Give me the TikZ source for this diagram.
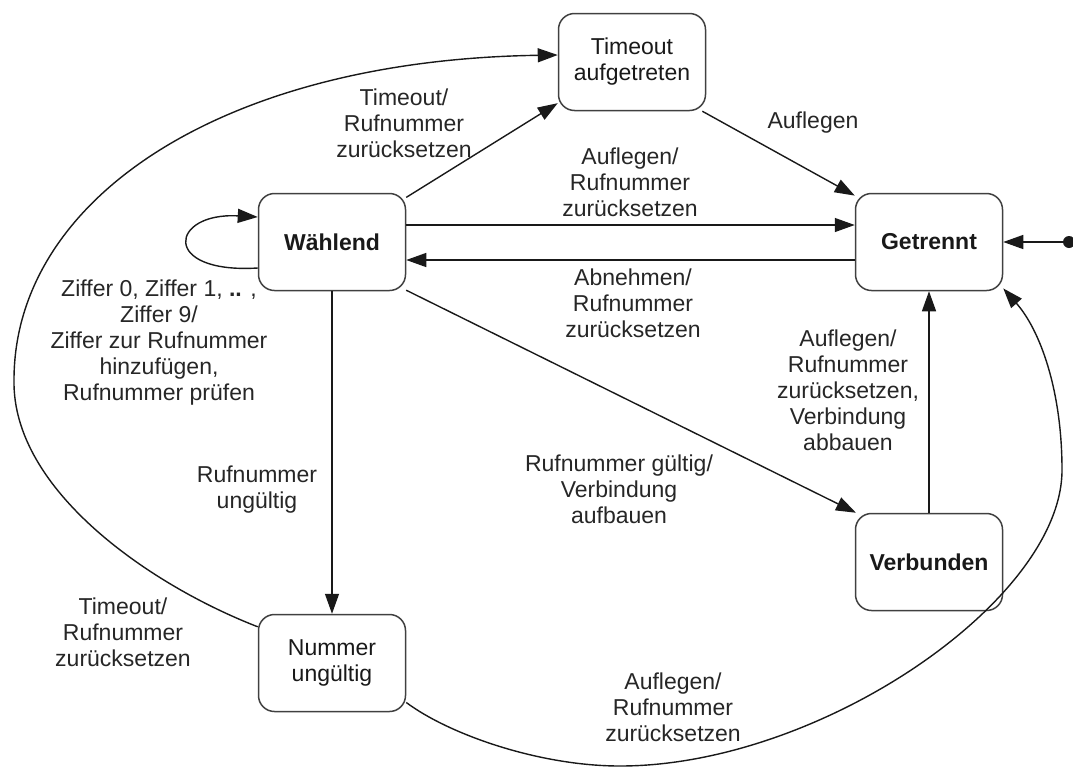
\documentclass[tikz,border=0pt]{standalone}
\usepackage{fontspec}
\setmainfont{Liberation Sans}
\usetikzlibrary{arrows.meta,calc}
\begin{document}
\begin{tikzpicture}[x=1pt,y=-1pt,
  state/.style={draw=black!75, line width=1.5pt, rounded corners=16pt, minimum width=147pt, minimum height=97pt, align=center, inner sep=0pt, font=\fontsize{23}{26}\selectfont, text=black!90},
  lbl/.style={align=center, inner sep=0pt, font=\fontsize{23}{26}\selectfont, text=black!85},
  tip/.tip={Triangle[length=20pt,width=14pt]},
  edge/.style={line width=1.4pt, draw=black!90, -tip},
]
\useasboundingbox (0,0) rectangle (1073,769);
% states
\node[state] (to) at (632,62) {Timeout\\aufgetreten};
\node[state] (w) at (332,242) {\textbf{Wählend}};
\node[state] (g) at (929,242) {\textbf{Getrennt}};
\node[state] (v) at (929,562) {\textbf{Verbunden}};
\node[state] (nu) at (332,663) {Nummer\\ungültig};
\fill[black!90] (1069,242) circle (6pt);
\coordinate (init) at (1069,242);
% edges
\draw[edge] (init) -- (g.east);
\draw[edge] (w.31.6) -- (to.209);
\draw[edge] (to.-35) -- (g.148);
\draw[edge] ([yshift=17pt]w.east) -- ([yshift=17pt]g.west);
\draw[edge] ([yshift=-18pt]g.west) -- ([yshift=-18pt]w.east);
\draw[edge] (w) -- (nu);
\draw[edge] (w.-33) -- (v.146);
\draw[edge] (v) -- (g);
\draw[edge] ([yshift=-26pt]w.west) .. controls (160,274) and (170,212) .. ([yshift=25pt]w.west);
\draw[edge] (nu.154) .. controls (150,585) and (12,490) .. (14,380) .. controls (14,200) and (220,60) .. ([yshift=7pt]to.west);
\draw[edge] (nu.-28) .. controls (450,735) and (540,766) .. (620,766) .. controls (820,766) and (1062,600) .. (1062,470) .. controls (1062,390) and (1040,330) .. (g.-32);
% labels
\node[lbl] (l1) at (404,123) {Timeout/\\Rufnummer\\zurücksetzen};
\node[lbl] (l2) at (813,123) {Auflegen};
\node[lbl] (l3) at (630,182) {Auflegen/\\Rufnummer\\zurücksetzen};
\node[lbl] (l4) at (633,303) {Abnehmen/\\Rufnummer\\zurücksetzen};
\node[lbl] (l5) at (159,343) {Ziffer 0, Ziffer 1, \textbf{..} ,\\Ziffer 9/\\Ziffer zur Rufnummer\\hinzufügen,\\Rufnummer prüfen};
\node[lbl] (l6) at (257,490) {Rufnummer\\ungültig};
\node[lbl] (l7) at (123,632) {Timeout/\\Rufnummer\\zurücksetzen};
\node[lbl] (l8) at (619,489) {Rufnummer gültig/\\Verbindung\\aufbauen};
\node[lbl] (l9) at (848,390) {Auflegen/\\Rufnummer\\zurücksetzen,\\Verbindung\\abbauen};
\node[lbl] (l10) at (673,707) {Auflegen/\\Rufnummer\\zurücksetzen};
\end{tikzpicture}
\end{document}
